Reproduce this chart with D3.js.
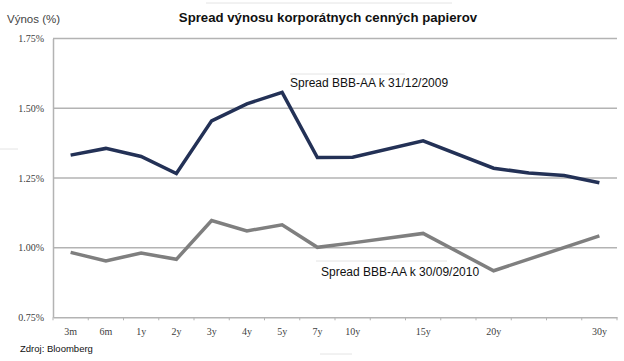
<!DOCTYPE html>
<html><head><meta charset="utf-8">
<script src="https://cdn.jsdelivr.net/npm/d3@7"></script>
<style>body{margin:0;background:#fff}svg{display:block}</style>
</head><body>
<svg id="c" width="624" height="361"></svg>
<script>
// Data
const categories = ["3m","6m","1y","2y","3y","4y","5y","7y","10y","","15y","","20y","","","30y"];
const series2009 = [1.332,1.356,1.327,1.266,1.455,1.516,1.557,1.323,1.324,null,1.383,null,1.285,1.268,1.259,1.233];
const series2010 = [0.983,0.952,0.981,0.958,1.097,1.060,1.082,1.001,1.017,null,1.051,null,0.917,null,null,1.042];
const yTicks = [0.75,1.00,1.25,1.50,1.75];
const labels = ["Spread BBB-AA k 31/12/2009","Spread BBB-AA k 30/09/2010"];
const title = "Spread výnosu korporátnych cenných papierov";
const yTitle = "Výnos (%)";
const source = "Zdroj: Bloomberg";

const svg = d3.select("#c");
const L = 53, R = 617, T = 38.6, B = 317.3;
const x = d3.scaleBand().domain(d3.range(categories.length)).range([L, R]);
const y = d3.scaleLinear().domain([0.75, 1.75]).range([B, T]);

// faint decoration lines
const faint = [[206,3,452,3],[0,149,18,149],[290,74,405,74],[316,261,447,261],[320,354,352,354]];
svg.selectAll("line.f").data(faint).join("line").attr("class","f")
  .attr("x1",d=>d[0]).attr("y1",d=>d[1]).attr("x2",d=>d[2]).attr("y2",d=>d[3])
  .attr("stroke","#e4e4e4").attr("stroke-width",1);

// gridlines
svg.append("g").selectAll("line").data(yTicks.slice(1)).join("line")
  .attr("x1", L).attr("x2", R).attr("y1", d => y(d)).attr("y2", d => y(d))
  .attr("stroke", "#b3b3b3").attr("stroke-width", 1.5);

// y axis
const yAxis = svg.append("g").attr("transform", `translate(${L},0)`)
  .call(d3.axisLeft(y).tickValues(yTicks).tickFormat(d => d.toFixed(2) + "%").tickSize(0).tickPadding(9));
yAxis.select(".domain").attr("stroke", "#b3b3b3").attr("stroke-width", 1.5);
yAxis.selectAll("text").attr("font-family", "Liberation Serif, serif").attr("font-size", 10).attr("fill", "#404040");

// x axis
const xAxis = svg.append("g").attr("transform", `translate(0,${B})`)
  .call(d3.axisBottom(x).tickFormat(i => categories[i]).tickSize(0).tickPadding(11));
xAxis.select(".domain").attr("stroke", "#b3b3b3").attr("stroke-width", 1.5);
xAxis.selectAll("text").attr("font-family", "Liberation Serif, serif").attr("font-size", 10).attr("fill", "#404040");
// tick marks at band boundaries
svg.append("g").selectAll("line").data(d3.range(categories.length + 1)).join("line")
  .attr("x1", i => L + i * x.step()).attr("x2", i => L + i * x.step())
  .attr("y1", B).attr("y2", B + 3).attr("stroke", "#b3b3b3").attr("stroke-width", 1);

// lines
const line = d3.line().x(d => x(d.i) + x.bandwidth() / 2).y(d => y(d.v));
function pts(arr){ return arr.map((v,i)=>({i,v})).filter(d=>d.v!==null); }
svg.append("path").datum(pts(series2010)).attr("d", line).attr("fill","none")
  .attr("stroke","#7f7f7f").attr("stroke-width",3.5).attr("stroke-linejoin","miter");
svg.append("path").datum(pts(series2009)).attr("d", line).attr("fill","none")
  .attr("stroke","#233156").attr("stroke-width",3.5).attr("stroke-linejoin","miter");

// labels
svg.append("text").attr("x", 290).attr("y", 87).text(labels[0])
  .attr("font-family","Liberation Sans, Arial, sans-serif").attr("font-size",12).attr("fill","#111");
svg.append("text").attr("x", 321).attr("y", 276).text(labels[1])
  .attr("font-family","Liberation Sans, Arial, sans-serif").attr("font-size",12).attr("fill","#111");

// titles
svg.append("text").attr("x", 328).attr("y", 22).attr("text-anchor","middle").text(title)
  .attr("font-family","Liberation Sans, Arial, sans-serif").attr("font-weight","bold").attr("font-size",13.2).attr("fill","#111");
svg.append("text").attr("x", 7).attr("y", 23).text(yTitle)
  .attr("font-family","Liberation Sans, Arial, sans-serif").attr("font-size",11.5).attr("fill","#444");
svg.append("text").attr("x", 20).attr("y", 352).text(source)
  .attr("font-family","Liberation Sans, Arial, sans-serif").attr("font-size",9.5).attr("fill","#111");
</script>
</body></html>
